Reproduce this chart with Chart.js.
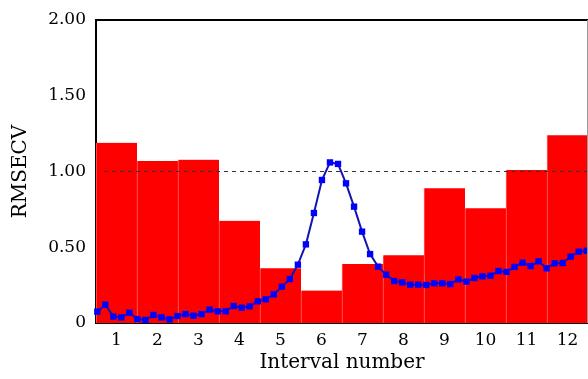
<!DOCTYPE html>
<html>
<head>
<meta charset="utf-8">
<script src="https://cdn.jsdelivr.net/npm/chart.js@4/dist/chart.umd.min.js"></script>
<style>
  html, body { margin: 0; padding: 0; background: #fff; }
  #wrap { width: 588px; height: 379px; position: relative; }
</style>
</head>
<body>
<div id="wrap"><canvas id="c" width="588" height="379"></canvas></div>
<script>
// Interval numbers (bars) and their RMSECV
const intervals = ['1', '2', '3', '4', '5', '6', '7', '8', '9', '10', '11', '12'];
const intervalRmsecv = [1.19, 1.07, 1.078, 0.675, 0.361, 0.214, 0.389, 0.447, 0.889, 0.758, 1.01, 1.24];

// Blue curve: RMSECV per point (62 points across the 12 intervals)
const curveRmsecv = [0.075, 0.121, 0.042, 0.037, 0.068, 0.026, 0.02, 0.053, 0.037, 0.024,
  0.046, 0.059, 0.048, 0.059, 0.088, 0.077, 0.077, 0.112, 0.101, 0.11,
  0.143, 0.156, 0.189, 0.24, 0.29, 0.385, 0.519, 0.726, 0.944, 1.06,
  1.05, 0.922, 0.768, 0.603, 0.455, 0.372, 0.319, 0.277, 0.268, 0.253,
  0.253, 0.251, 0.262, 0.262, 0.257, 0.288, 0.273, 0.297, 0.308, 0.312,
  0.343, 0.337, 0.37, 0.398, 0.376, 0.407, 0.361, 0.394, 0.396, 0.438,
  0.471, 0.477];

// Reference (global model) RMSECV level
const globalRmsecv = 1.0;
const globalSpan = [0.84, 61.16];

const yTicks = [0, 0.5, 1, 1.5, 2];
const yTickLabels = ['0', '0.50', '1.00', '1.50', '2.00'];
const xTitle = 'Interval number';
const yTitle = 'RMSECV';

const frame = {
  id: 'frame',
  afterDatasetsDraw(chart) {
    const a = chart.chartArea, ctx = chart.ctx;
    ctx.save();
    ctx.strokeStyle = '#000';
    ctx.lineWidth = 2;
    ctx.beginPath();
    ctx.moveTo(a.left - 1, a.top);
    ctx.lineTo(a.right, a.top);
    ctx.stroke();
    ctx.strokeStyle = '#999';
    ctx.lineWidth = 1;
    ctx.beginPath();
    ctx.moveTo(a.right - 0.5, a.top);
    ctx.lineTo(a.right - 0.5, a.bottom);
    ctx.stroke();
    ctx.restore();
  }
};

new Chart(document.getElementById('c'), {
  type: 'bar',
  data: {
    labels: intervals,
    datasets: [
      {
        type: 'bar',
        data: intervalRmsecv,
        backgroundColor: '#ff0000',
        borderColor: '#ff6a6a',
        borderWidth: { left: 1, right: 0, top: 0, bottom: 0 },
        borderSkipped: false,
        barPercentage: 1,
        categoryPercentage: 1,
        grouped: false,
        xAxisID: 'x',
        order: 3
      },
      {
        type: 'line',
        data: globalSpan.map(v => ({ x: v, y: globalRmsecv })),
        borderColor: '#333',
        borderWidth: 1,
        borderDash: [4, 4],
        pointRadius: 0,
        xAxisID: 'xp',
        order: 2
      },
      {
        type: 'line',
        data: curveRmsecv.map((v, i) => ({ x: i, y: v })),
        borderColor: '#1414b4',
        borderWidth: 2,
        tension: 0,
        pointStyle: 'rect',
        pointRadius: 4.5,
        pointBackgroundColor: '#0000ff',
        pointBorderColor: '#0000ff',
        pointBorderWidth: 0,
        xAxisID: 'xp',
        clip: false,
        order: 1
      }
    ]
  },
  options: {
    responsive: false,
    animation: false,
    devicePixelRatio: 1,
    layout: { autoPadding: false, padding: { top: 20, right: 0, left: 0, bottom: 0 } },
    plugins: { legend: { display: false }, tooltip: { enabled: false } },
    scales: {
      x: {
        type: 'category',
        offset: true,
        afterFit: s => { s.height = 56; s.paddingRight = 0; s.paddingLeft = 0; },
        grid: { display: false, drawTicks: true, tickLength: 7 },
        border: { display: true, color: '#000', width: 2 },
        ticks: {
          padding: 0,
          color: '#000',
          font: { family: 'DejaVu Serif', size: 17 },
          autoSkip: false,
          maxRotation: 0
        },
        title: {
          display: true, text: xTitle, color: '#000',
          font: { family: 'DejaVu Serif', size: 20 },
          padding: { top: 0, bottom: 4 }
        }
      },
      xp: {
        type: 'linear',
        display: false,
        offset: false,
        min: -0.162, max: 61.16
      },
      y: {
        min: 0, max: 2,
        afterBuildTicks: s => { s.ticks = yTicks.map(v => ({ value: v })); },
        afterFit: s => { s.width = 96; },
        grid: { display: false, drawTicks: true, tickLength: 10 },
        border: { display: true, color: '#000', width: 2 },
        ticks: {
          padding: 0,
          color: '#000',
          font: { family: 'DejaVu Serif', size: 17 },
          callback: (v) => yTickLabels[yTicks.indexOf(v)]
        },
        title: {
          display: true, text: yTitle, color: '#000',
          font: { family: 'DejaVu Serif', size: 20 },
          padding: { top: 9, bottom: 0 }
        }
      }
    }
  },
  plugins: [frame]
});
</script>
</body>
</html>
